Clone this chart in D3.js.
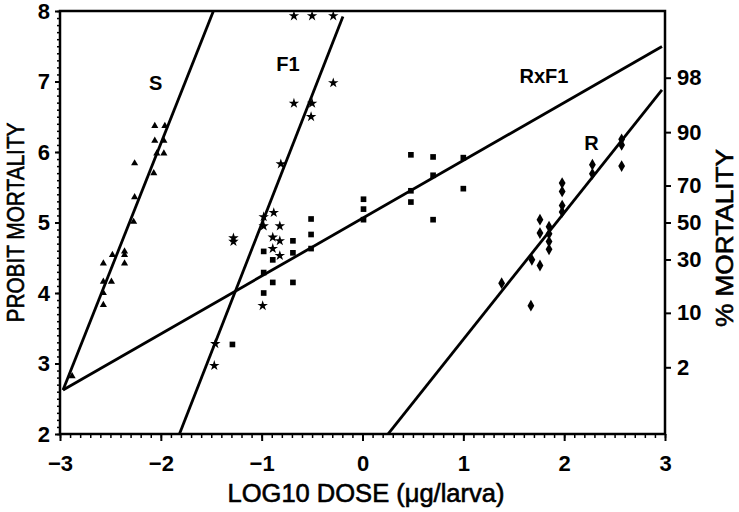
<!DOCTYPE html>
<html>
<head>
<meta charset="utf-8">
<script src="https://cdn.jsdelivr.net/npm/d3@7"></script>
<style>
  body { margin: 0; background: #fff; }
  svg { display: block; font-family: "Liberation Sans", Arial, sans-serif; }
</style>
</head>
<body>
<svg id="chart"></svg>
<script>
// 数据：log10 剂量 与 probit 死亡率
let s_dose   = [-2.06, -1.96, -2.06, -1.97, -2.04, -1.97, -2.26, -2.07, -2.26, -2.27, -2.36, -2.36, -2.48, -2.57, -2.36, -2.57, -2.49, -2.57, -2.57, -2.88];
let s_probit = [6.37, 6.37, 6.16, 6.16, 5.98, 5.98, 5.84, 5.70, 5.36, 5.01, 4.59, 4.54, 4.54, 4.42, 4.42, 4.16, 4.16, 4.00, 3.83, 2.82];

let f1_dose   = [-0.68, -0.50, -0.29, -0.29, -0.68, -0.50, -0.51, -0.81, -0.88, -0.98, -0.98, -0.82, -0.89, -0.82, -0.89, -0.82, -1.28, -1.28, -0.99, -1.46, -1.47];
let f1_probit = [7.93, 7.93, 7.93, 6.98, 6.69, 6.69, 6.50, 5.83, 5.14, 5.08, 4.95, 4.95, 4.79, 4.74, 4.63, 4.53, 4.78, 4.73, 3.82, 3.28, 2.97];

let rf1_dose   = [0.48, 0.70, 1.00, 0.70, 1.00, 0.48, 0.48, 0.70, 0.01, 0.01, 0.01, -0.51, -0.51, -0.51, -0.69, -0.69, -0.69, -0.89, -0.89, -0.98, -0.98, -0.98, -1.29];
let rf1_probit = [5.96, 5.93, 5.92, 5.67, 5.48, 5.45, 5.29, 5.04, 5.33, 5.19, 5.04, 5.05, 4.83, 4.63, 4.74, 4.57, 4.15, 4.47, 4.15, 4.59, 4.29, 4.00, 3.27];

let r_dose   = [1.38, 1.67, 1.68, 1.76, 1.76, 1.76, 1.85, 1.85, 1.85, 1.85, 1.98, 1.98, 1.98, 1.98, 2.28, 2.28, 2.57, 2.57, 2.57];
let r_probit = [4.14, 3.82, 4.47, 4.39, 5.04, 4.85, 4.94, 4.84, 4.73, 4.62, 5.56, 5.44, 5.24, 5.15, 5.82, 5.69, 6.18, 6.10, 5.80];

// 回归线：名称、截距、斜率、剂量范围
let line_names      = ['S', 'F1', 'RxF1', 'R'];
let line_intercepts = [13.33, 8.63, 5.06, 1.544];
let line_slopes     = [3.605, 3.652, 0.820, 1.797];
let line_from       = [-2.97, -1.9, -2.97, 0.2];
let line_to         = [-1.3, -0.194, 2.97, 2.97];
let label_dose      = [-2.05, -0.74, 1.80, 2.27];
let label_probit    = [6.95, 7.22, 7.06, 6.11];

let x_ticks = [-3, -2, -1, 0, 1, 2, 3];
let y_ticks = [2, 3, 4, 5, 6, 7, 8];
let pct_ticks = [2, 10, 30, 50, 70, 90, 98];

let width = 739, height = 512;
let margin = ({ top: 11, right: 74, bottom: 78, left: 60 });

let svg = d3.select('#chart').attr('width', width).attr('height', height);

let x = d3.scaleLinear([-3, 3], [margin.left, width - margin.right]);
let y = d3.scaleLinear([2, 8], [height - margin.bottom, margin.top]);

// 正态分布分位数 (Acklam 近似)，用于百分比轴
function inv_norm(p) {
    let a = [-39.6968302866538, 220.946098424521, -275.928510446969, 138.357751867269, -30.6647980661472, 2.50662827745924];
    let b = [-54.4760987982241, 161.585836858041, -155.698979859887, 66.8013118877197, -13.2806815528857];
    let c = [-0.00778489400243029, -0.322396458041136, -2.40075827716184, -2.54973253934373, 4.37466414146497, 2.93816398269878];
    let d = [0.00778469570904146, 0.32246712907004, 2.445134137143, 3.75440866190742];
    let q, r;
    if (p < 0.02425) {
        q = Math.sqrt(-2 * Math.log(p));
        return (((((c[0]*q+c[1])*q+c[2])*q+c[3])*q+c[4])*q+c[5]) / ((((d[0]*q+d[1])*q+d[2])*q+d[3])*q+1);
    } else if (p > 1 - 0.02425) {
        q = Math.sqrt(-2 * Math.log(1 - p));
        return -(((((c[0]*q+c[1])*q+c[2])*q+c[3])*q+c[4])*q+c[5]) / ((((d[0]*q+d[1])*q+d[2])*q+d[3])*q+1);
    }
    q = p - 0.5; r = q * q;
    return (((((a[0]*r+a[1])*r+a[2])*r+a[3])*r+a[4])*r+a[5])*q / (((((b[0]*r+b[1])*r+b[2])*r+b[3])*r+b[4])*r+1);
}

let x0 = x.range()[0], x1 = x.range()[1], y0 = y.range()[0], y1 = y.range()[1];

// 裁剪区域
svg.append('clipPath').attr('id', 'plot-clip')
    .append('rect').attr('x', x0).attr('y', y1).attr('width', x1 - x0).attr('height', y0 - y1);

// 次刻度
let minor_x = d3.range(-30, 31).map(v => v / 10);
let minor_y = d3.range(20, 81).map(v => v / 10);

svg.append('g')
    .attr('transform', `translate(0,${y0})`)
    .call(d3.axisBottom(x).tickValues(minor_x).tickSize(4).tickFormat(''))
    .call(g => g.select('.domain').remove())
    .selectAll('line').attr('stroke-width', 1.5);

svg.append('g')
    .attr('transform', `translate(${x0},0)`)
    .call(d3.axisLeft(y).tickValues(minor_y).tickSize(3).tickFormat(''))
    .call(g => g.select('.domain').remove())
    .selectAll('line').attr('stroke-width', 1.5);

let label_style = g => g.selectAll('text')
    .attr('font-size', 22).attr('font-weight', 'bold').attr('fill', '#000');

// 主刻度
let xAxis = g => g
    .attr('transform', `translate(0,${y0})`)
    .call(d3.axisBottom(x).tickValues(x_ticks).tickSize(7).tickPadding(14)
        .tickFormat(d => d < 0 ? '\u2212' + Math.abs(d) : d))
    .call(g => g.select('.domain').remove())
    .call(g => g.selectAll('line').attr('stroke-width', 2))
    .call(label_style);
svg.append('g').call(xAxis);

let yAxis = g => g
    .attr('transform', `translate(${x0},0)`)
    .call(d3.axisLeft(y).tickValues(y_ticks).tickSize(5).tickPadding(5).tickFormat(d3.format('d')))
    .call(g => g.select('.domain').remove())
    .call(g => g.selectAll('line').attr('stroke-width', 2))
    .call(label_style);
svg.append('g').call(yAxis);

// 右轴：百分比死亡率 (位置 = 5 + 正态分位数)
let rAxis = g => g
    .attr('transform', `translate(${x1},0)`)
    .call(d3.axisRight(y).tickValues(pct_ticks.map(p => 5 + inv_norm(p / 100))).tickSize(6).tickPadding(6)
        .tickFormat((d, i) => pct_ticks[i]))
    .call(g => g.select('.domain').remove())
    .call(g => g.selectAll('line').attr('stroke-width', 2))
    .call(label_style);
svg.append('g').call(rAxis);

// 边框
svg.append('rect')
    .attr('x', x0).attr('y', y1).attr('width', x1 - x0).attr('height', y0 - y1)
    .attr('fill', 'none').attr('stroke', '#000').attr('stroke-width', 2.5);

// 回归线
let plot = svg.append('g').attr('clip-path', 'url(#plot-clip)');
line_names.forEach((name, i) => {
    let f = d => line_intercepts[i] + line_slopes[i] * d;
    plot.append('line')
        .attr('x1', x(line_from[i])).attr('y1', y(f(line_from[i])))
        .attr('x2', x(line_to[i])).attr('y2', y(f(line_to[i])))
        .attr('stroke', '#000').attr('stroke-width', 2.8);
});

// 数据点
function draw_points(dose, prob, type, size) {
    let sym = d3.symbol().type(type).size(size);
    svg.append('g').selectAll('path')
        .data(dose.map((d, i) => [d, prob[i]]))
        .join('path')
        .attr('transform', d => `translate(${x(d[0])},${y(d[1])})`)
        .attr('d', sym)
        .attr('fill', '#000');
}
draw_points(s_dose, s_probit, d3.symbolTriangle, 22);
draw_points(f1_dose, f1_probit, d3.symbolStar, 34);
draw_points(rf1_dose, rf1_probit, d3.symbolSquare, 32);
draw_points(r_dose, r_probit, d3.symbolDiamond, 40);

// 线标签
svg.append('g').selectAll('text')
    .data(line_names)
    .join('text')
    .attr('x', (d, i) => x(label_dose[i]))
    .attr('y', (d, i) => y(label_probit[i]))
    .attr('text-anchor', 'middle')
    .attr('dominant-baseline', 'middle')
    .attr('font-size', 20)
    .attr('font-weight', 'bold')
    .text(d => d);

// 轴标题
let title_style = t => t
    .attr('text-anchor', 'middle').attr('dominant-baseline', 'middle')
    .attr('font-size', 24)
    .attr('stroke', '#000').attr('stroke-width', 0.6)
    .attr('lengthAdjust', 'spacingAndGlyphs');

svg.append('text')
    .attr('x', 366).attr('y', 495)
    .call(title_style)
    .attr('font-size', 25)
    .attr('textLength', 277)
    .text('LOG10 DOSE (\u03bcg/larva)');

svg.append('text')
    .attr('transform', `translate(18,${(y0 + y1) / 2}) rotate(-90)`)
    .call(title_style)
    .attr('textLength', 200)
    .text('PROBIT MORTALITY');

svg.append('text')
    .attr('transform', `translate(727,238) rotate(-90)`)
    .call(title_style)
    .attr('textLength', 178)
    .text('% MORTALITY');
</script>
</body>
</html>
